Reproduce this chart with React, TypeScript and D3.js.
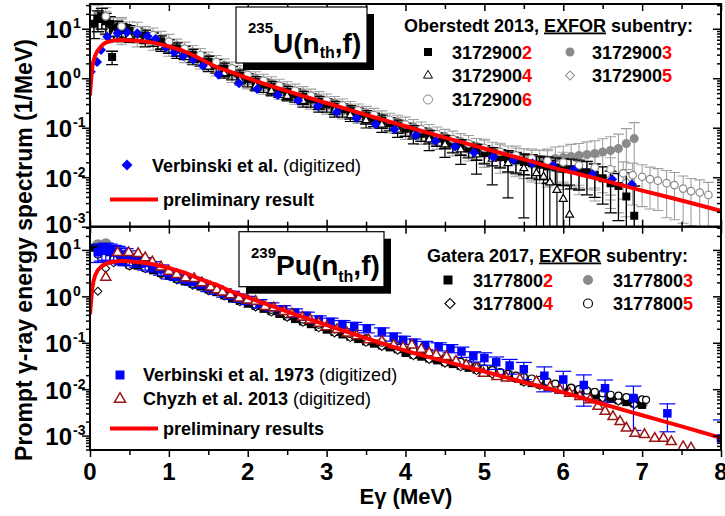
import { useEffect, useRef } from 'react'
import * as d3 from 'd3'

// [energy (MeV), spectrum (1/MeV), relative error]
type Pt = number[]

const xMajor = [0, 1, 2, 3, 4, 5, 6, 7, 8]
const xMinor = [0.5, 1.5, 2.5, 3.5, 4.5, 5.5, 6.5, 7.5]
const yDecades = [1, 0, -1, -2, -3]

const topTitle = { iso: '235', el: 'U(n', sub: 'th', tail: ',f)' }
const bottomTitle = { iso: '239', el: 'Pu(n', sub: 'th', tail: ',f)' }
const topHeader = ['Oberstedt 2013, ', 'EXFOR', ' subentry:']
const bottomHeader = ['Gatera 2017, ', 'EXFOR', ' subentry:']
const topIds = ['31729002', '31729003', '31729004', '31729005', '31729006']
const bottomIds = ['31778002', '31778003', '31778004', '31778005']

// ---- 235U panel ----
const u235Verbinski: Pt[] = [
  [0.01, 1.35], [0.09, 2.14], [0.14, 3.72], [0.22, 6.92], [0.35, 8.13], [0.47, 8.51], [0.6, 8.13],
  [0.73, 7.08], [0.83, 6.17], [0.96, 4.17], [1.07, 3.31], [1.18, 2.82], [1.31, 2.4], [1.43, 1.78],
  [1.63, 1.17], [1.89, 0.794], [2.12, 0.603], [2.38, 0.457], [2.64, 0.355], [2.89, 0.275], [3.13, 0.209],
  [3.38, 0.158], [3.62, 0.117], [3.86, 0.0933], [4.13, 0.0708], [4.38, 0.0537], [4.63, 0.0417],
  [4.87, 0.0316], [5.11, 0.0257], [5.37, 0.0224], [5.61, 0.0191], [5.87, 0.017], [6.13, 0.0141],
  [6.37, 0.0115], [6.62, 0.00912], [6.87, 0.00724],
]

const u235Sub2: Pt[] = [
  [0.05, 12.6, 0.5], [0.1, 15.8, 0.45], [0.15, 17.8, 0.45], [0.2, 14.1, 0.45], [0.25, 12.6, 0.4], [0.28, 2.7, 0.3],
  [0.3, 10.0, 0.4], [0.35, 10.5, 0.35], [0.4, 9.55, 0.35], [0.45, 9.33, 0.3], [0.5, 8.91, 0.3],
  [0.6, 7.94, 0.3], [0.7, 7.24, 0.3], [0.8, 6.31, 0.3], [0.9, 5.5, 0.3], [1.0, 4.57, 0.3], [1.1, 3.98, 0.3],
  [1.2, 3.39, 0.3], [1.3, 2.95, 0.3], [1.4, 2.51, 0.3], [1.5, 2.14, 0.3], [1.6, 1.82, 0.3], [1.7, 1.55, 0.3],
  [1.8, 1.32, 0.3], [1.9, 1.12, 0.3], [2.0, 0.955, 0.3], [2.1, 0.832, 0.3], [2.2, 0.741, 0.3], [2.3, 0.661, 0.3],
  [2.4, 0.589, 0.3], [2.5, 0.525, 0.3], [2.6, 0.468, 0.3], [2.7, 0.417, 0.3], [2.8, 0.372, 0.3], [2.9, 0.331, 0.3],
  [3.0, 0.295, 0.3], [3.1, 0.263, 0.3], [3.2, 0.234, 0.3], [3.3, 0.214, 0.3], [3.4, 0.191, 0.3], [3.5, 0.17, 0.3],
  [3.6, 0.151, 0.3], [3.7, 0.138, 0.3], [3.8, 0.123, 0.3], [3.9, 0.11, 0.3], [4.0, 0.0955, 0.3], [4.1, 0.0851, 0.3],
  [4.2, 0.0759, 0.3], [4.3, 0.0676, 0.3], [4.4, 0.0603, 0.3], [4.5, 0.0537, 0.3], [4.6, 0.0479, 0.35],
  [4.7, 0.0427, 0.35], [4.8, 0.038, 0.35], [4.9, 0.0339, 0.35], [5.0, 0.0309, 0.4], [5.1, 0.0282, 0.4],
  [5.2, 0.0257, 0.4], [5.3, 0.0234, 0.45], [5.4, 0.0219, 0.45], [5.5, 0.0204, 0.45], [5.6, 0.0191, 0.5],
  [5.7, 0.0178, 0.5], [5.8, 0.0166, 0.55], [5.9, 0.0158, 0.55], [6.0, 0.0151, 0.55], [6.1, 0.0145, 0.6],
  [6.2, 0.0138, 0.6], [6.3, 0.0126, 0.65], [6.4, 0.0112, 0.65], [6.5, 0.00955, 0.7], [6.6, 0.00759, 0.75],
  [6.7, 0.00661, 0.8], [6.8, 0.00407, 2.0], [6.9, 0.00166, 3.0],
]

const u235Sub3: Pt[] = [
  [0.1, 20.0, 0.5], [0.2, 15.0, 0.5], [0.3, 11.2, 0.5], [0.4, 10.5, 0.5], [0.5, 9.55, 0.45], [0.7, 7.94, 0.4],
  [0.9, 6.31, 0.4], [1.1, 4.57, 0.35], [1.3, 3.39, 0.35], [1.5, 2.51, 0.35], [1.7, 1.82, 0.35], [1.9, 1.32, 0.35],
  [2.1, 1.0, 0.35], [2.3, 0.794, 0.35], [2.5, 0.631, 0.35], [2.7, 0.501, 0.35], [2.9, 0.398, 0.35],
  [3.1, 0.316, 0.35], [3.3, 0.251, 0.35], [3.5, 0.2, 0.35], [3.7, 0.162, 0.35], [3.9, 0.132, 0.35],
  [4.1, 0.105, 0.4], [4.3, 0.0832, 0.4], [4.5, 0.0661, 0.4], [4.7, 0.0525, 0.45], [4.9, 0.0417, 0.45],
  [5.0, 0.0372, 0.5], [5.1, 0.0339, 0.5], [5.2, 0.0302, 0.5], [5.3, 0.0275, 0.55], [5.4, 0.0251, 0.55],
  [5.5, 0.0234, 0.6], [5.6, 0.0219, 0.6], [5.7, 0.0214, 0.65], [5.8, 0.0224, 0.65], [5.9, 0.024, 0.7],
  [6.0, 0.0251, 0.7], [6.1, 0.0263, 0.75], [6.2, 0.0275, 0.75], [6.3, 0.0288, 0.8], [6.4, 0.0302, 0.8],
  [6.5, 0.0324, 0.85], [6.6, 0.0347, 0.9], [6.7, 0.038, 0.95], [6.8, 0.0479, 1.0], [6.9, 0.0603, 1.1],
]

const u235Sub4: Pt[] = [
  [0.3, 7.94, 0.3], [0.5, 7.08, 0.25], [0.7, 5.75, 0.25], [0.9, 4.37, 0.2], [1.1, 3.16, 0.2], [1.3, 2.34, 0.2],
  [1.5, 1.7, 0.2], [1.7, 1.26, 0.2], [1.9, 0.912, 0.2], [2.1, 0.692, 0.2], [2.3, 0.55, 0.2], [2.5, 0.437, 0.2],
  [2.7, 0.347, 0.25], [2.9, 0.275, 0.25], [3.1, 0.219, 0.25], [3.3, 0.178, 0.25], [3.5, 0.141, 0.3],
  [3.7, 0.115, 0.3], [3.9, 0.0912, 0.3], [4.1, 0.0724, 0.35], [4.3, 0.0575, 0.4], [4.5, 0.0457, 0.45],
  [4.7, 0.0363, 0.5], [4.9, 0.0288, 0.6], [5.1, 0.0234, 0.7], [5.3, 0.0191, 0.8], [5.5, 0.0151, 0.9],
  [5.66, 0.012, 1.2], [5.75, 0.0102, 1.5], [5.83, 0.00776, 1.8], [5.92, 0.0055, 2.2], [6.0, 0.00363, 2.5],
  [6.08, 0.00174, 3.0],
]

const u235Sub5: Pt[] = [
  [0.2, 11.2, 0.45], [0.4, 7.94, 0.4], [0.6, 6.61, 0.35], [0.8, 5.25, 0.3], [1.0, 3.98, 0.3], [1.2, 2.95, 0.3],
  [1.4, 2.19, 0.3], [1.6, 1.58, 0.3], [1.8, 1.17, 0.3], [2.0, 0.871, 0.3], [2.2, 0.676, 0.3], [2.4, 0.537, 0.3],
  [2.6, 0.427, 0.3], [2.8, 0.339, 0.3], [3.0, 0.269, 0.3], [3.2, 0.214, 0.3], [3.4, 0.174, 0.3], [3.6, 0.138, 0.3],
  [3.8, 0.112, 0.3], [4.0, 0.0891, 0.35], [4.2, 0.0708, 0.35], [4.4, 0.0562, 0.35], [4.6, 0.0447, 0.4],
  [4.8, 0.0355, 0.4], [5.0, 0.0288, 0.45], [5.2, 0.024, 0.5], [5.4, 0.0204, 0.5], [5.6, 0.0178, 0.55],
  [5.8, 0.0158, 0.6], [6.0, 0.0141, 0.6], [6.2, 0.0126, 0.65], [6.4, 0.011, 0.7], [6.6, 0.00933, 0.75],
  [6.8, 0.00794, 0.8],
]

const u235Sub6: Pt[] = [
  [0.2, 17.8, 0.5], [0.4, 11.2, 0.5], [0.6, 9.33, 0.45], [0.8, 7.41, 0.4], [1.0, 5.5, 0.4], [1.2, 3.98, 0.35],
  [1.4, 2.95, 0.35], [1.6, 2.14, 0.35], [1.8, 1.58, 0.35], [2.0, 1.17, 0.35], [2.2, 0.891, 0.35], [2.4, 0.708, 0.35],
  [2.6, 0.562, 0.35], [2.8, 0.447, 0.35], [3.0, 0.355, 0.35], [3.2, 0.282, 0.35], [3.4, 0.224, 0.35],
  [3.6, 0.182, 0.35], [3.8, 0.145, 0.35], [4.0, 0.117, 0.4], [4.2, 0.0933, 0.4], [4.4, 0.0741, 0.4],
  [4.6, 0.0589, 0.45], [4.8, 0.0479, 0.45], [5.0, 0.0389, 0.5], [5.2, 0.0324, 0.5], [5.4, 0.0275, 0.55],
  [5.6, 0.024, 0.55], [5.8, 0.0214, 0.6], [6.0, 0.02, 0.6], [6.2, 0.0174, 0.65], [6.4, 0.0158, 0.65],
  [6.6, 0.0145, 0.7], [6.76, 0.012, 0.7], [6.88, 0.011, 0.75], [7.0, 0.0102, 0.75], [7.1, 0.00912, 0.75],
  [7.2, 0.00851, 0.75], [7.31, 0.00759, 0.8], [7.41, 0.00692, 0.8], [7.52, 0.00589, 0.8], [7.62, 0.00525, 0.8],
  [7.73, 0.0049, 0.8], [7.84, 0.00437, 0.8],
]

const u235Model: Pt[] = [
  [0.0, 0.447], [0.03, 1.7], [0.07, 2.95], [0.14, 4.37], [0.2, 5.25], [0.3, 5.75], [0.4, 5.89], [0.6, 5.75],
  [0.8, 5.25], [1.0, 4.37], [1.2, 3.47], [1.4, 2.45], [1.6, 1.7], [1.8, 1.32], [2.0, 1.0], [2.5, 0.55],
  [3.0, 0.316], [3.5, 0.182], [4.0, 0.107], [4.5, 0.0631], [5.0, 0.038], [5.5, 0.0229], [6.0, 0.0138],
  [6.5, 0.00871], [7.0, 0.00537], [7.5, 0.00339], [8.0, 0.00209],
]

// ---- 239Pu panel ----
const pu239Verbinski: Pt[] = [
  [0.1, 8.91, 0.4], [0.15, 9.55, 0.4], [0.2, 10.0, 0.4], [0.25, 9.55, 0.4], [0.3, 8.91, 0.4], [0.35, 8.51, 0.4],
  [0.4, 7.94, 0.4], [0.45, 7.59, 0.4], [0.5, 7.08, 0.35], [0.6, 6.03, 0.3], [0.7, 5.25, 0.3], [0.8, 4.47, 0.25],
  [0.9, 3.8, 0.25], [1.0, 3.16, 0.25], [1.1, 2.75, 0.2], [1.2, 2.4, 0.2], [1.3, 2.14, 0.2], [1.4, 1.86, 0.2],
  [1.5, 1.58, 0.2], [1.6, 1.38, 0.2], [1.7, 1.2, 0.2], [1.8, 1.07, 0.2], [1.9, 0.933, 0.2], [2.0, 0.832, 0.2],
  [2.15, 0.708, 0.2], [2.3, 0.603, 0.2], [2.45, 0.525, 0.2], [2.6, 0.447, 0.2], [2.75, 0.38, 0.2], [2.9, 0.316, 0.2],
  [3.05, 0.282, 0.2], [3.2, 0.251, 0.2], [3.35, 0.229, 0.2], [3.51, 0.204, 0.2], [3.7, 0.174, 0.2],
  [3.85, 0.135, 0.2], [3.97, 0.115, 0.2], [4.1, 0.1, 0.2], [4.25, 0.0891, 0.2], [4.42, 0.0832, 0.2],
  [4.57, 0.0759, 0.2], [4.71, 0.0646, 0.25], [4.86, 0.0513, 0.25], [5.0, 0.0468, 0.3], [5.15, 0.038, 0.3],
  [5.32, 0.0324, 0.35], [5.5, 0.0269, 0.4], [5.76, 0.0195, 0.55], [6.0, 0.0162, 0.5], [6.26, 0.0123, 0.65],
  [6.53, 0.0105, 0.5], [6.89, 0.00646, 0.8], [7.32, 0.00302, 0.6], [8.0, 0.000871, 1.5],
]

const pu239Chyzh: Pt[] = [
  [0.2, 2.57], [0.35, 8.71], [0.49, 8.71], [0.61, 8.32], [0.7, 6.76], [0.79, 5.5], [0.9, 4.27], [1.0, 3.47],
  [1.1, 2.95], [1.21, 2.51], [1.32, 2.4], [1.42, 1.95], [1.53, 1.58], [1.61, 1.38], [1.68, 1.23], [1.78, 1.07],
  [1.89, 0.912], [2.0, 0.832], [2.1, 0.776], [2.22, 0.603], [2.33, 0.562], [2.46, 0.468], [2.56, 0.417],
  [2.69, 0.355], [2.79, 0.309], [2.9, 0.263], [3.0, 0.219], [3.13, 0.191], [3.26, 0.162], [3.38, 0.141],
  [3.53, 0.115], [3.7, 0.107], [3.85, 0.0891], [3.97, 0.0794], [4.08, 0.0891], [4.2, 0.0724], [4.3, 0.0603],
  [4.39, 0.055], [4.52, 0.0501], [4.64, 0.0398], [4.77, 0.0331], [4.9, 0.0282], [4.99, 0.0219], [5.16, 0.0186],
  [5.28, 0.0174], [5.45, 0.0162], [5.66, 0.0145], [5.83, 0.011], [5.96, 0.00955], [6.08, 0.00813],
  [6.21, 0.00692], [6.34, 0.00589], [6.44, 0.00427], [6.53, 0.00331], [6.63, 0.00257], [6.72, 0.002],
  [6.8, 0.00145], [6.91, 0.00112], [7.03, 0.00105], [7.16, 0.000871], [7.27, 0.000871], [7.37, 0.000741],
  [7.52, 0.000575], [7.62, 0.000537],
]

const pu239Sub2: Pt[] = [
  [0.05, 11.2], [0.1, 8.91], [0.15, 11.2], [0.2, 10.0], [0.25, 8.91], [0.3, 7.94], [0.4, 5.62], [0.5, 4.79],
  [0.6, 4.57], [0.7, 4.17], [0.8, 3.63], [0.9, 3.16], [1.0, 2.75], [1.1, 2.4], [1.2, 2.09], [1.3, 1.86],
  [1.4, 1.62], [1.5, 1.41], [1.6, 1.23], [1.7, 1.05], [1.8, 0.891], [1.9, 0.794], [2.0, 0.692], [2.1, 0.617],
  [2.2, 0.537], [2.3, 0.479], [2.4, 0.417], [2.5, 0.372], [2.6, 0.324], [2.7, 0.288], [2.8, 0.251], [2.9, 0.219],
  [3.0, 0.191], [3.1, 0.17], [3.2, 0.151], [3.3, 0.135], [3.4, 0.12], [3.5, 0.107], [3.6, 0.0955], [3.7, 0.0871],
  [3.8, 0.0794], [3.9, 0.0724], [4.0, 0.0603], [4.1, 0.055], [4.2, 0.0501], [4.3, 0.0457], [4.4, 0.0417],
  [4.5, 0.038], [4.6, 0.0347], [4.7, 0.0316], [4.8, 0.0288], [4.9, 0.0263], [5.0, 0.024], [5.1, 0.0224],
  [5.2, 0.0204], [5.3, 0.0191], [5.4, 0.0174], [5.5, 0.0148], [5.6, 0.0135], [5.7, 0.0126], [5.8, 0.0115],
  [5.9, 0.0107], [6.0, 0.00977], [6.1, 0.00912], [6.2, 0.00851], [6.3, 0.00776], [6.4, 0.00724],
  [6.5, 0.00676], [6.6, 0.00617], [6.7, 0.00575], [6.8, 0.00525], [6.9, 0.0049], [7.0, 0.00457],
]

const pu239Sub3: Pt[] = [
  [0.1, 12.6], [0.2, 13.2], [0.3, 8.91], [0.4, 6.3], [0.5, 5.25], [0.7, 4.57], [0.9, 3.47], [1.1, 2.63],
  [1.3, 2.0], [1.5, 1.51], [1.7, 1.15], [1.9, 0.851], [2.1, 0.661], [2.3, 0.513], [2.5, 0.398], [2.7, 0.309],
  [2.9, 0.24], [3.1, 0.186], [3.3, 0.148], [3.5, 0.117], [3.7, 0.0955], [3.9, 0.0794], [4.1, 0.0603],
  [4.3, 0.0501], [4.5, 0.0417], [4.7, 0.0347], [4.9, 0.0288], [5.1, 0.0245], [5.3, 0.0209], [5.5, 0.0166],
  [5.7, 0.0138], [5.9, 0.0117], [6.1, 0.01], [6.3, 0.00851], [6.5, 0.00741], [6.7, 0.00631], [6.9, 0.00537],
  [7.0, 0.00501],
]

const pu239Sub4: Pt[] = [
  [0.1, 1.29], [0.2, 3.98], [0.3, 5.25], [0.5, 4.47], [0.7, 3.98], [0.9, 2.95], [1.1, 2.24], [1.3, 1.74],
  [1.5, 1.32], [1.7, 1.02], [1.9, 0.759], [2.1, 0.589], [2.3, 0.457], [2.5, 0.355], [2.7, 0.275], [2.9, 0.209],
  [3.1, 0.162], [3.3, 0.129], [3.5, 0.102], [3.7, 0.0832], [3.9, 0.0692], [4.1, 0.0525], [4.3, 0.0437],
  [4.5, 0.0363], [4.7, 0.0302], [4.9, 0.0251], [5.1, 0.0209], [5.3, 0.0178], [5.5, 0.0141], [5.7, 0.012],
  [5.9, 0.0102], [6.1, 0.00871], [6.3, 0.00741], [6.5, 0.00646], [6.7, 0.0055], [6.9, 0.00468],
]

const pu239Sub5: Pt[] = [
  [0.1, 7.94], [0.3, 6.31], [0.5, 4.57], [0.7, 3.98], [0.9, 3.16], [1.1, 2.4], [1.3, 1.86], [1.5, 1.41],
  [1.7, 1.1], [1.9, 0.832], [2.1, 0.661], [2.3, 0.513], [2.5, 0.407], [2.7, 0.316], [2.9, 0.245], [3.1, 0.195],
  [3.3, 0.155], [3.5, 0.123], [3.7, 0.1], [3.9, 0.0832], [4.1, 0.0692], [4.3, 0.0562], [4.5, 0.0468],
  [4.7, 0.0389], [4.8, 0.0347], [4.9, 0.0316], [5.0, 0.0282], [5.1, 0.0257], [5.2, 0.0234], [5.3, 0.0214],
  [5.4, 0.0195], [5.5, 0.0182], [5.6, 0.017], [5.7, 0.0158], [5.8, 0.0145], [5.9, 0.0132], [6.0, 0.0117],
  [6.1, 0.0107], [6.2, 0.01], [6.3, 0.00933], [6.4, 0.00871], [6.5, 0.00813], [6.6, 0.00759], [6.7, 0.00724],
  [6.8, 0.00676], [6.9, 0.00631], [7.0, 0.00603], [7.05, 0.00589],
]

const pu239Model: Pt[] = [
  [0.0, 0.407], [0.03, 1.51], [0.07, 2.95], [0.15, 4.47], [0.28, 5.5], [0.4, 5.75], [0.6, 5.5], [0.8, 4.9],
  [1.0, 4.07], [1.2, 3.24], [1.4, 2.34], [1.6, 1.78], [1.8, 1.26], [2.0, 0.955], [2.5, 0.468], [3.0, 0.24],
  [3.5, 0.126], [4.0, 0.0676], [4.5, 0.0398], [5.0, 0.024], [5.5, 0.0141], [6.0, 0.00851], [6.5, 0.00479],
  [7.0, 0.00275], [7.5, 0.00158], [8.0, 0.000891],
]

const SANS = "'Liberation Sans', Arial, Helvetica, sans-serif"
const NARROW = "'Liberation Sans Narrow', 'Liberation Sans', Arial, sans-serif"
const RED = '#ff0000'
const BLUE = '#0000ff'
const GRAY = '#8a8a8a'
const DARKRED = '#9a1515'

const sq = (s: number) => s * s
const circ = (d: number) => (Math.PI * d * d) / 4
const dia = (d: number) => (d * d) / 2
const tri = (a: number) => (Math.sqrt(3) / 4) * a * a

type Mark = { type: d3.SymbolType; size: number; fill: string; stroke: string; sw: number; rot?: number }

function sym(m: Mark) {
  return d3.symbol().type(m.type).size(m.size)() as string
}

function drawMarks(g: any, pts: Pt[], x: any, y: any, m: Mark) {
  g.append('g')
    .selectAll('path')
    .data(pts)
    .join('path')
    .attr('d', sym(m))
    .attr('transform', (d: Pt) => `translate(${x(d[0])},${y(d[1])})${m.rot ? ` rotate(${m.rot})` : ''}`)
    .attr('fill', m.fill)
    .attr('stroke', m.stroke)
    .attr('stroke-width', m.sw)
}

function drawBars(g: any, pts: Pt[], x: any, y: any, color: string, cap: number, sw: number) {
  const floor = y.domain()[0]
  const yBottom = y.range()[0] + 4
  const bars = g.append('g').attr('stroke', color).attr('stroke-width', sw)
  pts.forEach((d) => {
    const r = d[2]
    if (!r) return
    const cx = x(d[0])
    const hi = y(d[1] * (1 + r))
    const lowV = d[1] * (1 - r)
    const lo = lowV > floor ? y(lowV) : yBottom
    bars.append('line').attr('x1', cx).attr('x2', cx).attr('y1', hi).attr('y2', lo)
    bars.append('line').attr('x1', cx - cap / 2).attr('x2', cx + cap / 2).attr('y1', hi).attr('y2', hi)
    if (lowV > floor) bars.append('line').attr('x1', cx - cap / 2).attr('x2', cx + cap / 2).attr('y1', lo).attr('y2', lo)
  })
}

function drawModel(g: any, pts: Pt[], x: any, y: any) {
  const line = d3
    .line<Pt>()
    .x((d) => x(d[0]))
    .y((d) => y(d[1]))
    .curve(d3.curveMonotoneX)
  g.append('path').attr('d', line(pts)).attr('fill', 'none').attr('stroke', RED).attr('stroke-width', 4)
}

function titleBox(svg: any, bx: number, by: number, bw: number, bh: number, t: any, tx: number, supY: number, mainY: number, subY: number) {
  svg.append('rect').attr('x', bx + 7).attr('y', by + 7).attr('width', bw).attr('height', bh).attr('fill', '#000')
  svg.append('rect').attr('x', bx).attr('y', by).attr('width', bw).attr('height', bh).attr('fill', '#fff').attr('stroke', '#000').attr('stroke-width', 1.2)
  const text = svg.append('text').attr('x', tx).attr('font-family', SANS).attr('font-weight', 'bold').attr('fill', '#000')
  text.append('tspan').attr('y', supY).attr('font-size', 15).text(t.iso)
  text.append('tspan').attr('y', mainY).attr('font-size', 28).text(t.el)
  text.append('tspan').attr('y', subY).attr('font-size', 16).text(t.sub)
  text.append('tspan').attr('y', mainY).attr('font-size', 28).text(t.tail)
}

function header(svg: any, x: number, y: number, parts: string[]) {
  const t = svg.append('text').attr('x', x).attr('y', y).attr('font-family', SANS).attr('font-weight', 'bold').attr('font-size', 18).style('white-space', 'pre')
  t.append('tspan').text(parts[0])
  t.append('tspan').attr('text-decoration', 'underline').text(parts[1])
  t.append('tspan').text(parts[2])
}

function idEntry(svg: any, mx: number, my: number, m: Mark, id: string, tx: number) {
  svg.append('path').attr('d', sym(m)).attr('transform', `translate(${mx},${my})${m.rot ? ` rotate(${m.rot})` : ''}`)
    .attr('fill', m.fill).attr('stroke', m.stroke).attr('stroke-width', m.sw)
  const t = svg.append('text').attr('x', tx).attr('y', my + 6.5).attr('font-family', SANS).attr('font-weight', 'bold').attr('font-size', 18)
  t.append('tspan').text(id.slice(0, -1))
  t.append('tspan').attr('fill', RED).text(id.slice(-1))
}

function richLabel(svg: any, x: number, y: number, bold: string, normal: string) {
  const t = svg.append('text').attr('x', x).attr('y', y).attr('font-family', SANS).attr('font-size', 18).style('white-space', 'pre')
  t.append('tspan').attr('font-weight', 'bold').text(bold)
  if (normal) t.append('tspan').attr('font-weight', 'normal').text(normal)
}

function drawAxesFor(svg: any, x: any, y: any, top: number, bottom: number, topInward: boolean, bottomOut: boolean, lowShift: number) {
  const left = x.range()[0]
  const right = x.range()[1]
  const [lo, hi] = y.domain()
  const majors = yDecades.map((k) => Math.pow(10, k)).filter((v) => v >= lo * 0.999 && v <= hi)
  const minors: number[] = []
  for (let k = -4; k <= 1; k++) for (let m = 2; m <= 9; m++) {
    const v = m * Math.pow(10, k)
    if (v > lo && v < hi) minors.push(v)
  }
  const ax = svg.append('g').attr('stroke', '#000')
  const clean = (g: any) => { g.select('.domain').remove(); g.selectAll('text').remove(); g.selectAll('line').attr('stroke', '#000').attr('stroke-width', 1.5) }

  ax.append('g').attr('transform', `translate(${left},0)`).call(d3.axisLeft(y).tickValues(majors).tickSize(8)).call(clean)
  ax.append('g').attr('transform', `translate(${left},0)`).call(d3.axisLeft(y).tickValues(minors).tickSize(4)).call(clean)
  ax.append('g').attr('transform', `translate(${right},0)`).call(d3.axisRight(y).tickValues(majors).tickSize(-8)).call(clean)
  ax.append('g').attr('transform', `translate(${right},0)`).call(d3.axisRight(y).tickValues(minors).tickSize(-4)).call(clean)

  if (topInward) {
    ax.append('g').attr('transform', `translate(0,${top})`).call(d3.axisTop(x).tickValues(xMajor).tickSize(-7)).call(clean)
    ax.append('g').attr('transform', `translate(0,${top})`).call(d3.axisTop(x).tickValues(xMinor).tickSize(-5)).call(clean)
  } else {
    ax.append('g').attr('transform', `translate(0,${top})`).call(d3.axisBottom(x).tickValues(xMajor).tickSize(7)).call(clean)
    ax.append('g').attr('transform', `translate(0,${top})`).call(d3.axisBottom(x).tickValues(xMinor).tickSize(5)).call(clean)
  }
  const sgn = bottomOut ? 1 : -1
  ax.append('g').attr('transform', `translate(0,${bottom})`).call(d3.axisBottom(x).tickValues(xMajor).tickSize(7 * sgn)).call(clean)
  ax.append('g').attr('transform', `translate(0,${bottom})`).call(d3.axisBottom(x).tickValues(xMinor).tickSize(5 * sgn)).call(clean)

  // decade labels
  majors.forEach((v, i) => {
    const k = Math.round(Math.log10(v))
    const ty = y(v) + (i === majors.length - 1 ? lowShift : 0)
    svg.append('text').attr('x', 72).attr('y', ty + 9.5).attr('text-anchor', 'end').attr('font-family', NARROW).attr('font-weight', 'bold').attr('font-size', 24).text('10')
    svg.append('text').attr('x', 73).attr('y', ty - 0.5).attr('font-family', NARROW).attr('font-weight', 'bold').attr('font-size', 14).text(String(k))
  })
  svg.append('rect').attr('x', left).attr('y', top).attr('width', right - left).attr('height', bottom - top).attr('fill', 'none').attr('stroke', '#000').attr('stroke-width', 2)
}

function draw(node: SVGSVGElement) {
  const svg = d3.select(node)
  svg.selectAll('*').remove()

  const x = d3.scaleLinear().domain([0, 8]).range([90, 721])
  const yTop = d3.scaleLog().domain([1e-3, Math.pow(10, 1.5)]).range([226.7, 4])
  const yBot = d3.scaleLog().domain([Math.pow(10, -3.31), Math.pow(10, 1.5)]).range([450, 226.7])

  svg.append('rect').attr('width', 725).attr('height', 516).attr('fill', '#fff')

  const defs = svg.append('defs')
  defs.append('clipPath').attr('id', 'clipTop').append('rect').attr('x', 90).attr('y', 4).attr('width', 631).attr('height', 222.7)
  defs.append('clipPath').attr('id', 'clipBot').append('rect').attr('x', 90).attr('y', 226.7).attr('width', 631).attr('height', 223.3)

  // ---------- top panel ----------
  const gT = svg.append('g').attr('clip-path', 'url(#clipTop)')
  drawBars(gT, u235Sub6, x, yTop, '#a0a0a0', 11, 1.1)
  drawBars(gT, u235Sub3, x, yTop, '#a0a0a0', 11, 1.1)
  drawBars(gT, u235Sub5, x, yTop, '#a0a0a0', 11, 1.1)
  drawMarks(gT, u235Sub3, x, yTop, { type: d3.symbolCircle, size: circ(9), fill: GRAY, stroke: 'none', sw: 0 })
  drawMarks(gT, u235Sub5, x, yTop, { type: d3.symbolSquare, size: dia(9), fill: '#fff', stroke: GRAY, sw: 1, rot: 45 })
  drawBars(gT, u235Sub4, x, yTop, '#000', 11, 1.2)
  drawBars(gT, u235Sub2, x, yTop, '#000', 12, 1.3)
  drawMarks(gT, u235Sub2, x, yTop, { type: d3.symbolSquare, size: sq(8), fill: '#000', stroke: 'none', sw: 0 })
  drawMarks(gT, u235Sub4, x, yTop, { type: d3.symbolTriangle, size: tri(8), fill: '#fff', stroke: '#000', sw: 1.2 })
  drawMarks(gT, u235Sub6, x, yTop, { type: d3.symbolCircle, size: circ(7.5), fill: '#fff', stroke: GRAY, sw: 1.2 })
  drawMarks(gT, u235Verbinski, x, yTop, { type: d3.symbolSquare, size: dia(10), fill: BLUE, stroke: 'none', sw: 0, rot: 45 })
  drawModel(gT, u235Model, x, yTop)

  // ---------- bottom panel ----------
  const gB = svg.append('g').attr('clip-path', 'url(#clipBot)')
  drawMarks(gB, pu239Sub3, x, yBot, { type: d3.symbolCircle, size: circ(12), fill: GRAY, stroke: 'none', sw: 0 })
  drawMarks(gB, pu239Sub2, x, yBot, { type: d3.symbolSquare, size: sq(8), fill: '#000', stroke: 'none', sw: 0 })
  drawMarks(gB, pu239Sub4, x, yBot, { type: d3.symbolSquare, size: dia(8), fill: '#fff', stroke: '#000', sw: 1, rot: 45 })
  drawMarks(gB, pu239Sub5, x, yBot, { type: d3.symbolCircle, size: circ(7), fill: '#fff', stroke: '#000', sw: 1.2 })
  drawBars(gB, pu239Verbinski, x, yBot, BLUE, 16, 1.2)
  drawMarks(gB, pu239Verbinski, x, yBot, { type: d3.symbolSquare, size: sq(8.5), fill: BLUE, stroke: 'none', sw: 0 })
  drawMarks(gB, pu239Chyzh, x, yBot, { type: d3.symbolTriangle, size: tri(10), fill: '#fff', stroke: DARKRED, sw: 1.5 })
  drawModel(gB, pu239Model, x, yBot)

  // ---------- axes ----------
  drawAxesFor(svg, x, yTop, 4, 226.7, true, false, -3)
  drawAxesFor(svg, x, yBot, 226.7, 450, false, true, 0)

  xMajor.forEach((v) => {
    svg.append('text').attr('x', x(v)).attr('y', 480).attr('text-anchor', 'middle').attr('font-family', NARROW).attr('font-weight', 'bold').attr('font-size', 24).text(String(v))
  })
  svg.append('text').attr('x', 406).attr('y', 504).attr('text-anchor', 'middle').attr('font-family', NARROW).attr('font-weight', 'bold').attr('font-size', 22).text('Eγ (MeV)')
  svg.append('text').attr('transform', 'translate(32,250) rotate(-90)').attr('text-anchor', 'middle').attr('font-family', NARROW).attr('font-weight', 'bold').attr('font-size', 23).text('Prompt γ-ray energy spectrum (1/MeV)')

  // ---------- title boxes ----------
  titleBox(svg, 236, 7, 131, 56, topTitle, 248, 33, 53, 58)
  titleBox(svg, 239, 231.7, 145, 55, bottomTitle, 251, 258, 275, 281.7)

  // ---------- legends: top ----------
  header(svg, 404, 31.5, topHeader)
  idEntry(svg, 428, 52, { type: d3.symbolSquare, size: sq(8), fill: '#000', stroke: 'none', sw: 0 }, topIds[0], 452)
  idEntry(svg, 570, 52, { type: d3.symbolCircle, size: circ(9), fill: GRAY, stroke: 'none', sw: 0 }, topIds[1], 592)
  idEntry(svg, 428, 75.5, { type: d3.symbolTriangle, size: tri(9), fill: '#fff', stroke: '#000', sw: 1 }, topIds[2], 452)
  idEntry(svg, 570, 75.5, { type: d3.symbolSquare, size: dia(9), fill: '#fff', stroke: GRAY, sw: 1, rot: 45 }, topIds[3], 592)
  idEntry(svg, 428, 99.5, { type: d3.symbolCircle, size: circ(9), fill: '#fff', stroke: GRAY, sw: 1 }, topIds[4], 452)

  svg.append('path').attr('d', sym({ type: d3.symbolSquare, size: dia(11), fill: '', stroke: '', sw: 0 })).attr('transform', 'translate(127,165) rotate(45)').attr('fill', BLUE)
  richLabel(svg, 152, 172, 'Verbinski et al.', ' (digitized)')
  svg.append('line').attr('x1', 110).attr('x2', 158).attr('y1', 199.5).attr('y2', 199.5).attr('stroke', RED).attr('stroke-width', 4)
  richLabel(svg, 163, 206, 'preliminary result', '')

  // ---------- legends: bottom ----------
  header(svg, 427, 261.5, bottomHeader)
  idEntry(svg, 448, 280, { type: d3.symbolSquare, size: sq(9), fill: '#000', stroke: 'none', sw: 0 }, bottomIds[0], 473)
  idEntry(svg, 588, 280, { type: d3.symbolCircle, size: circ(10), fill: GRAY, stroke: 'none', sw: 0 }, bottomIds[1], 613)
  idEntry(svg, 450, 303.5, { type: d3.symbolSquare, size: dia(10), fill: '#fff', stroke: '#000', sw: 1.2, rot: 45 }, bottomIds[2], 473)
  idEntry(svg, 588, 303.5, { type: d3.symbolCircle, size: circ(9), fill: '#fff', stroke: '#000', sw: 1.2 }, bottomIds[3], 613)

  svg.append('path').attr('d', sym({ type: d3.symbolSquare, size: sq(9), fill: '', stroke: '', sw: 0 })).attr('transform', 'translate(120,375)').attr('fill', BLUE)
  richLabel(svg, 143, 381, 'Verbinski et al. 1973', ' (digitized)')
  svg.append('path').attr('d', sym({ type: d3.symbolTriangle, size: tri(11), fill: '', stroke: '', sw: 0 })).attr('transform', 'translate(120,399)').attr('fill', '#fff').attr('stroke', DARKRED).attr('stroke-width', 1.5)
  richLabel(svg, 143, 405, 'Chyzh et al. 2013', ' (digitized)')
  svg.append('line').attr('x1', 110).attr('x2', 158).attr('y1', 428.5).attr('y2', 428.5).attr('stroke', RED).attr('stroke-width', 4)
  richLabel(svg, 163, 435, 'preliminary results', '')
}

export default function App() {
  const ref = useRef<SVGSVGElement>(null)
  useEffect(() => {
    if (ref.current) draw(ref.current)
  }, [])
  return (
    <svg ref={ref} width={725} height={516} style={{ position: 'absolute', left: 0, top: 0, display: 'block' }} />
  )
}
